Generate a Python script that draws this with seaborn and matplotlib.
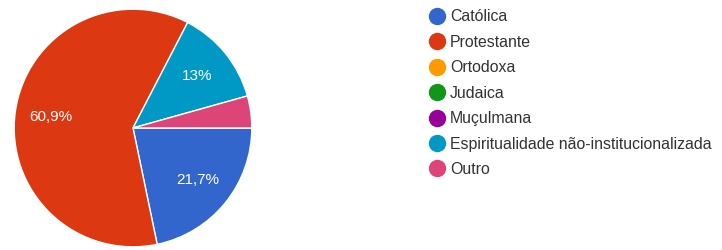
import matplotlib
matplotlib.use('Agg')
import matplotlib.pyplot as plt
from matplotlib.lines import Line2D
import seaborn as sns

categories = ['Católica', 'Protestante', 'Ortodoxa', 'Judaica', 'Muçulmana',
              'Espiritualidade não-institucionalizada', 'Outro']
counts = [5, 14, 0, 0, 0, 3, 1]
colors = ['#3366cc', '#dc3912', '#ff9900', '#109618', '#990099', '#0099c6', '#dd4477']

sns.set_style('white')
plt.rcParams['font.family'] = ['Liberation Sans', 'DejaVu Sans']


def fmt_pct(p):
    if p < 5:
        return ''
    s = f'{p:.1f}'.replace('.', ',')
    if s.endswith(',0'):
        s = s[:-2]
    return s + '%'


fig = plt.figure(figsize=(7.22, 2.5), dpi=100)
ax = fig.add_axes([13 / 722, 2 / 250, 240 / 722, 240 / 250])

# only draw non-zero slices, keep colour mapping
vals = [v for v in counts if v > 0]
cols = [c for v, c in zip(counts, colors) if v > 0]
wedges, texts, autotexts = ax.pie(
    vals, colors=cols, startangle=0, counterclock=False,
    autopct=fmt_pct, pctdistance=0.7,
    wedgeprops=dict(edgecolor='white', linewidth=1),
    textprops=dict(color='white', fontsize=11))
ax.set_xlim(-1.01, 1.01)
ax.set_ylim(-1.01, 1.01)
ax.set_aspect('equal')

handles = [Line2D([0], [0], marker='o', linestyle='', markersize=11.5,
                  markerfacecolor=c, markeredgecolor=c) for c in colors]
fig.legend(handles, categories, loc='upper left', bbox_to_anchor=(413 / 722, 1 + 5 / 250),
           frameon=False, fontsize=11.4, handletextpad=0.25, labelspacing=0.66,
           handlelength=1.2, labelcolor='#333333')

fig.savefig('out.png', dpi=100)
